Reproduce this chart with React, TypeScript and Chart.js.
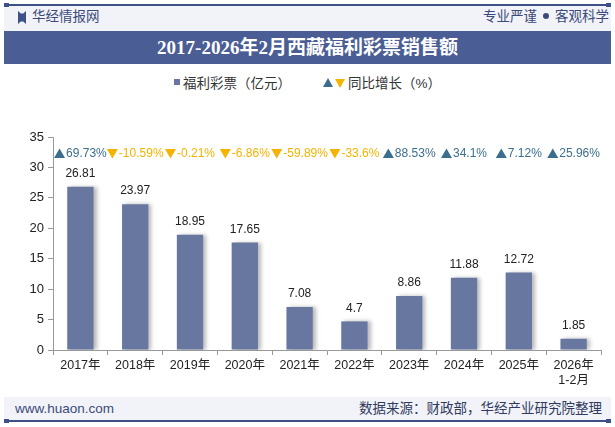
import React, { useEffect, useRef } from "react";
import { Chart, registerables } from "chart.js";

Chart.register(...registerables);

const categories: (string | string[])[] = [
  "2017年", "2018年", "2019年", "2020年", "2021年",
  "2022年", "2023年", "2024年", "2025年", ["2026年", "1-2月"],
];
const salesValues = [26.81, 23.97, 18.95, 17.65, 7.08, 4.7, 8.86, 11.88, 12.72, 1.85];
const growthLabels = ["69.73%", "-10.59%", "-0.21%", "-6.86%", "-59.89%", "-33.6%", "88.53%", "34.1%", "7.12%", "25.96%"];
const growthUp = [true, false, false, false, false, false, true, true, true, true];
const yTicks = [0, 5, 10, 15, 20, 25, 30, 35];

const BAR = "#67779f";
const BAND = "#4a5d94";
const UP = "#3b6e8e";
const DOWN = "#f5b301";
const FONT = "'Liberation Sans', 'Noto Sans CJK SC', sans-serif";

export default function App() {
  const ref = useRef<HTMLCanvasElement>(null);
  useEffect(() => {
    document.body.style.margin = "0";
    const canvas = ref.current!;
    const plugin = {
      id: "annot",
      beforeDatasetsDraw(chart: any) {
        const ctx = chart.ctx;
        ctx.save();
        ctx.shadowColor = "rgba(0,0,0,0.28)";
        ctx.shadowOffsetX = 3;
        ctx.shadowOffsetY = 0;
        ctx.shadowBlur = 4;
      },
      afterDatasetsDraw(chart: any) {
        const ctx = chart.ctx;
        ctx.restore();
        const meta = chart.getDatasetMeta(0);
        const ys = chart.scales.y;
        ctx.save();
        ctx.font = `12px ${FONT}`;
        ctx.textAlign = "center";
        ctx.textBaseline = "middle";
        ctx.fillStyle = "#222";
        meta.data.forEach((bar: any, i: number) => {
          ctx.fillText(String(salesValues[i]), bar.x, bar.y - 13);
        });
        const gy = ys.getPixelForValue(32.3);
        meta.data.forEach((bar: any, i: number) => {
          const txt = growthLabels[i];
          const tw = ctx.measureText(txt).width;
          const triW = 11;
          const total = tw + triW + 1;
          const x0 = bar.x - total / 2;
          const color = growthUp[i] ? UP : DOWN;
          ctx.fillStyle = color;
          ctx.beginPath();
          if (growthUp[i]) {
            ctx.moveTo(x0, gy + 4.5);
            ctx.lineTo(x0 + triW, gy + 4.5);
            ctx.lineTo(x0 + triW / 2, gy - 5);
          } else {
            ctx.moveTo(x0, gy - 4.5);
            ctx.lineTo(x0 + triW, gy - 4.5);
            ctx.lineTo(x0 + triW / 2, gy + 5);
          }
          ctx.closePath();
          ctx.fill();
          ctx.textAlign = "left";
          ctx.fillText(txt, x0 + triW + 1, gy + 0.5);
        });
        ctx.restore();
      },
    };
    const chart = new Chart(canvas, {
      type: "bar",
      data: {
        labels: categories,
        datasets: [
          {
            label: "福利彩票（亿元）",
            data: salesValues,
            backgroundColor: BAR,
            categoryPercentage: 1,
            barPercentage: 0.48,
          },
        ],
      },
      options: {
        animation: false,
        responsive: false,
        maintainAspectRatio: false,
        layout: { padding: { top: 73, right: 14, left: 0, bottom: 0 } },
        plugins: { legend: { display: false }, tooltip: { enabled: false } },
        scales: {
          x: {
            offset: true,
            grid: { offset: true, drawOnChartArea: false, drawTicks: true, tickLength: 5, color: "#999" },
            border: { color: "#999" },
            ticks: { color: "#222", font: { size: 12.5, family: FONT }, padding: 3, maxRotation: 0, autoSkip: false },
            afterFit: (s: any) => { s.height = 45; },
          },
          y: {
            min: 0,
            max: 35,
            afterBuildTicks: (s: any) => { s.ticks = yTicks.map((v) => ({ value: v })); },
            grid: { drawOnChartArea: false, drawTicks: true, tickLength: 5, color: "#999" },
            border: { color: "#999" },
            ticks: { color: "#222", font: { size: 13, family: FONT }, padding: 4 },
            afterFit: (s: any) => { s.width = 53; },
          },
        },
      },
      plugins: [plugin],
    });
    return () => chart.destroy();
  }, []);

  const line = (top: number) => (
    <div style={{ position: "absolute", left: 4, top, width: 607, height: 2, background: "#3d5186" }}>
      <div style={{ position: "absolute", left: 0, top: -1, width: 5, height: 4, background: "#3d5186" }} />
      <div style={{ position: "absolute", right: 0, top: -1, width: 5, height: 4, background: "#3d5186" }} />
    </div>
  );

  return (
    <div style={{ position: "fixed", left: 0, top: 0, width: 615, height: 427, background: "#fff", overflow: "hidden", fontFamily: FONT }}>
      <div style={{ position: "absolute", left: 4, top: 5, width: 607, height: 27, background: "#f1f3f8" }} />
      {line(4)}
      <div style={{ position: "absolute", left: 18, top: 11, width: 8, height: 13, background: "#3d5186", clipPath: "polygon(0 0, 35% 20%, 65% 20%, 100% 0, 100% 100%, 65% 80%, 35% 80%, 0 100%)" }} />
      <div style={{ position: "absolute", left: 32, top: 8, fontSize: 13.5, color: "#3b4a78", lineHeight: "18px" }}>华经情报网</div>
      <div style={{ position: "absolute", right: 6, top: 8, fontSize: 13.5, color: "#3b4a78", lineHeight: "18px", whiteSpace: "nowrap" }}>
        <span>专业严谨</span>
        <span style={{ display: "inline-block", width: 6, height: 6, borderRadius: 3, background: "#3b4a78", margin: "0 6px", position: "relative", top: -2 }} />
        <span>客观科学</span>
      </div>
      <div style={{ position: "absolute", left: 4, top: 31, width: 607, height: 33, background: BAND, color: "#fff", textAlign: "center", lineHeight: "33px", fontSize: 19, fontWeight: "bold", fontFamily: "'Liberation Serif', 'Noto Sans CJK SC', serif" }}>
        2017-2026年2月西藏福利彩票销售额
      </div>
      <div style={{ position: "absolute", left: 0, top: 72, width: 615, height: 20, display: "flex", justifyContent: "center", alignItems: "center", fontSize: 13.5, color: "#333" }}>
        <span style={{ display: "inline-block", width: 6, height: 6, background: BAR, marginRight: 3 }} />
        <span>福利彩票（亿元）</span>
        <span style={{ display: "inline-block", width: 32 }} />
        <svg width="24" height="12" style={{ marginRight: 1 }}>
          <polygon points="0,11 10,11 5,2" fill={UP} />
          <polygon points="12,3 22,3 17,12" fill={DOWN} />
        </svg>
        <span>同比增长（%）</span>
      </div>
      <canvas ref={ref} width={615} height={331} style={{ position: "absolute", left: 0, top: 64, width: 615, height: 331 }} />
      <div style={{ position: "absolute", left: 4, top: 397, width: 607, height: 24, background: "#f1f3f8" }} />
      <div style={{ position: "absolute", left: 15, top: 400, fontSize: 13.5, color: "#3b4a78", lineHeight: "18px" }}>www.huaon.com</div>
      <div style={{ position: "absolute", right: 13, top: 400, fontSize: 13.5, color: "#2f3a5e", lineHeight: "18px" }}>数据来源：财政部，华经产业研究院整理</div>
      {line(420)}
    </div>
  );
}
